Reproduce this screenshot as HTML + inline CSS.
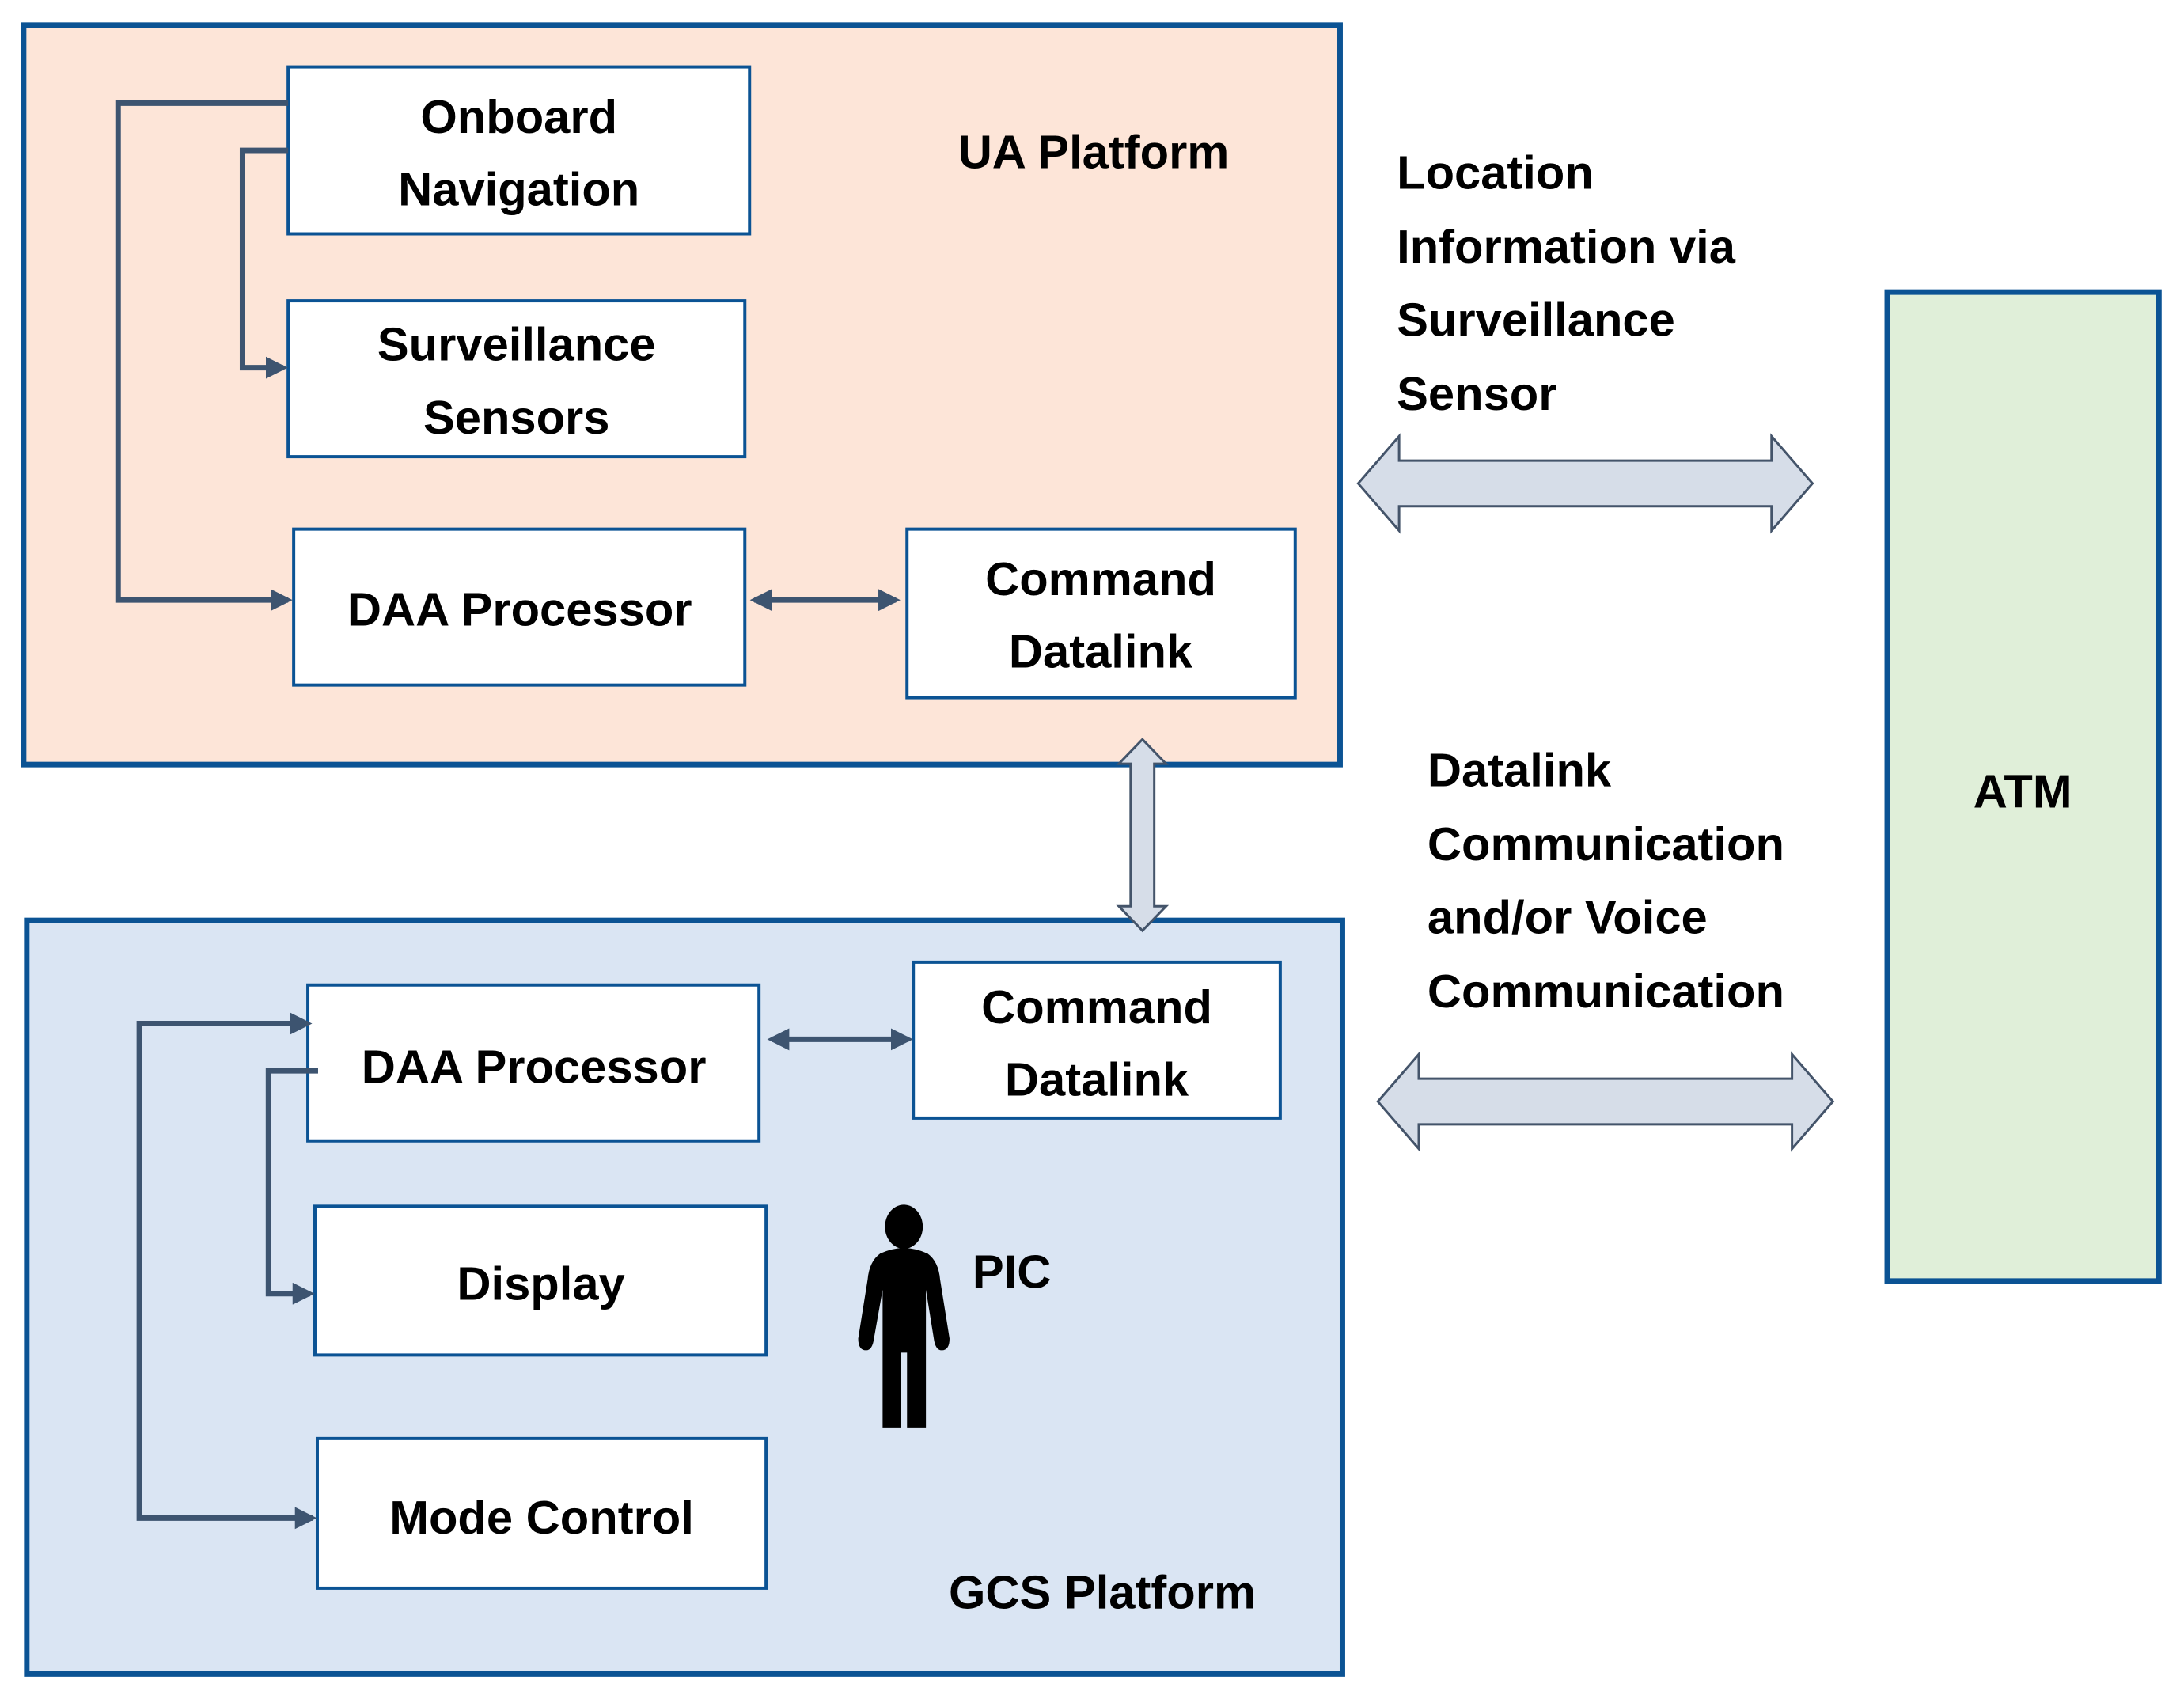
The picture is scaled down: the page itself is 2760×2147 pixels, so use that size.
<!DOCTYPE html>
<html><head><meta charset="utf-8"><style>
html,body{margin:0;padding:0;background:#fff;}
svg{display:block;}
text{font-family:"Liberation Sans",sans-serif;font-weight:bold;font-size:60px;fill:#000;}
</style></head><body>
<svg width="2760" height="2147" viewBox="0 0 2760 2147" xmlns="http://www.w3.org/2000/svg">
<defs>
<marker id="ah" markerWidth="4" markerHeight="4" refX="3.2" refY="2" orient="auto" markerUnits="strokeWidth">
<path d="M0,0 L4,2 L0,4 z" fill="#3d5470"/></marker>
<marker id="as" markerWidth="4" markerHeight="4" refX="0.8" refY="2" orient="auto" markerUnits="strokeWidth">
<path d="M4,0 L0,2 L4,4 z" fill="#3d5470"/></marker>
</defs>
<g transform="scale(0.995)">
<!-- UA Platform -->
<rect x="30" y="32" width="1672" height="939" fill="#fde5d8" stroke="#0b5394" stroke-width="7"/>
<g fill="#fff" stroke="#0b5394" stroke-width="4">
<rect x="366" y="85" width="586" height="212"/>
<rect x="366" y="382" width="580" height="198"/>
<rect x="373" y="672" width="573" height="198"/>
<rect x="1152" y="672" width="493" height="214"/>
</g>
<g dominant-baseline="central" text-anchor="middle">
<text x="659" y="148">Onboard</text>
<text x="659" y="240">Navigation</text>
<text x="656" y="437">Surveillance</text>
<text x="656" y="530">Sensors</text>
<text x="660" y="774">DAA Processor</text>
<text x="1398" y="735">Command</text>
<text x="1398" y="827">Datalink</text>
<text x="1389" y="193">UA Platform</text>
</g>
<g fill="none" stroke="#3d5470" stroke-width="7">
<path d="M366,131 H150 V762 H366" marker-end="url(#ah)"/>
<path d="M366,191 H308 V467 H360" marker-end="url(#ah)"/>
<path d="M958,762 H1138" marker-start="url(#as)" marker-end="url(#ah)"/>
</g>
<!-- GCS Platform -->
<rect x="34" y="1169" width="1671" height="957" fill="#dae5f3" stroke="#0b5394" stroke-width="7"/>
<g fill="#fff" stroke="#0b5394" stroke-width="4">
<rect x="391" y="1251" width="573" height="198"/>
<rect x="1160" y="1222" width="466" height="198"/>
<rect x="400" y="1532" width="573" height="189"/>
<rect x="403" y="1827" width="570" height="190"/>
</g>
<g dominant-baseline="central" text-anchor="middle">
<text x="678" y="1355">DAA Processor</text>
<text x="1393" y="1279">Command</text>
<text x="1393" y="1371">Datalink</text>
<text x="687" y="1630">Display</text>
<text x="688" y="1927">Mode Control</text>
<text x="1400" y="2022">GCS Platform</text>
<text x="1285" y="1615">PIC</text>
</g>
<g fill="none" stroke="#3d5470" stroke-width="7">
<path d="M391,1300 H177 V1928 H397" marker-start="url(#as)" marker-end="url(#ah)"/>
<path d="M404,1360 H341 V1643 H394" marker-end="url(#ah)"/>
<path d="M980,1320 H1154" marker-start="url(#as)" marker-end="url(#ah)"/>
</g>
<!-- PIC figure -->
<g fill="#000">
<ellipse cx="1148" cy="1558" rx="24" ry="28"/>
<path d="M1118,1592 Q1148,1578 1178,1592 Q1192,1602 1194,1625 L1206,1700 Q1206,1715 1196,1715 Q1188,1715 1186,1700 L1176,1638 L1176,1813 L1152,1813 L1152,1718 L1144,1718 L1144,1813 L1121,1813 L1121,1638 L1110,1700 Q1108,1715 1100,1715 Q1090,1715 1090,1700 L1102,1625 Q1104,1602 1118,1592 z"/>
</g>
<!-- vertical double arrow -->
<path d="M1451,939 L1481,970 L1466,970 L1466,1151 L1481,1151 L1451,1182 L1421,1151 L1436,1151 L1436,970 L1421,970 z" fill="#d6dde8" stroke="#44546a" stroke-width="3"/>
<!-- ATM -->
<rect x="2397" y="371" width="345" height="1256" fill="#e0efd9" stroke="#0b5394" stroke-width="7"/>
<text x="2569" y="1005" dominant-baseline="central" text-anchor="middle">ATM</text>
<!-- horizontal arrows -->
<path d="M1725,614 L1777,554 L1777,585 L2250,585 L2250,554 L2302,614 L2250,674 L2250,643 L1777,643 L1777,674 z" fill="#d6dde8" stroke="#44546a" stroke-width="3"/>
<path d="M1750,1399 L1802,1339 L1802,1370 L2276,1370 L2276,1339 L2328,1399 L2276,1459 L2276,1428 L1802,1428 L1802,1459 z" fill="#d6dde8" stroke="#44546a" stroke-width="3"/>
<g dominant-baseline="central">
<text x="1774" y="219">Location</text>
<text x="1774" y="313">Information via</text>
<text x="1774" y="406">Surveillance</text>
<text x="1774" y="500">Sensor</text>
<text x="1813" y="978">Datalink</text>
<text x="1813" y="1072">Communication</text>
<text x="1813" y="1165">and/or Voice</text>
<text x="1813" y="1259">Communication</text>
</g>
</g>
</svg>
</body></html>
